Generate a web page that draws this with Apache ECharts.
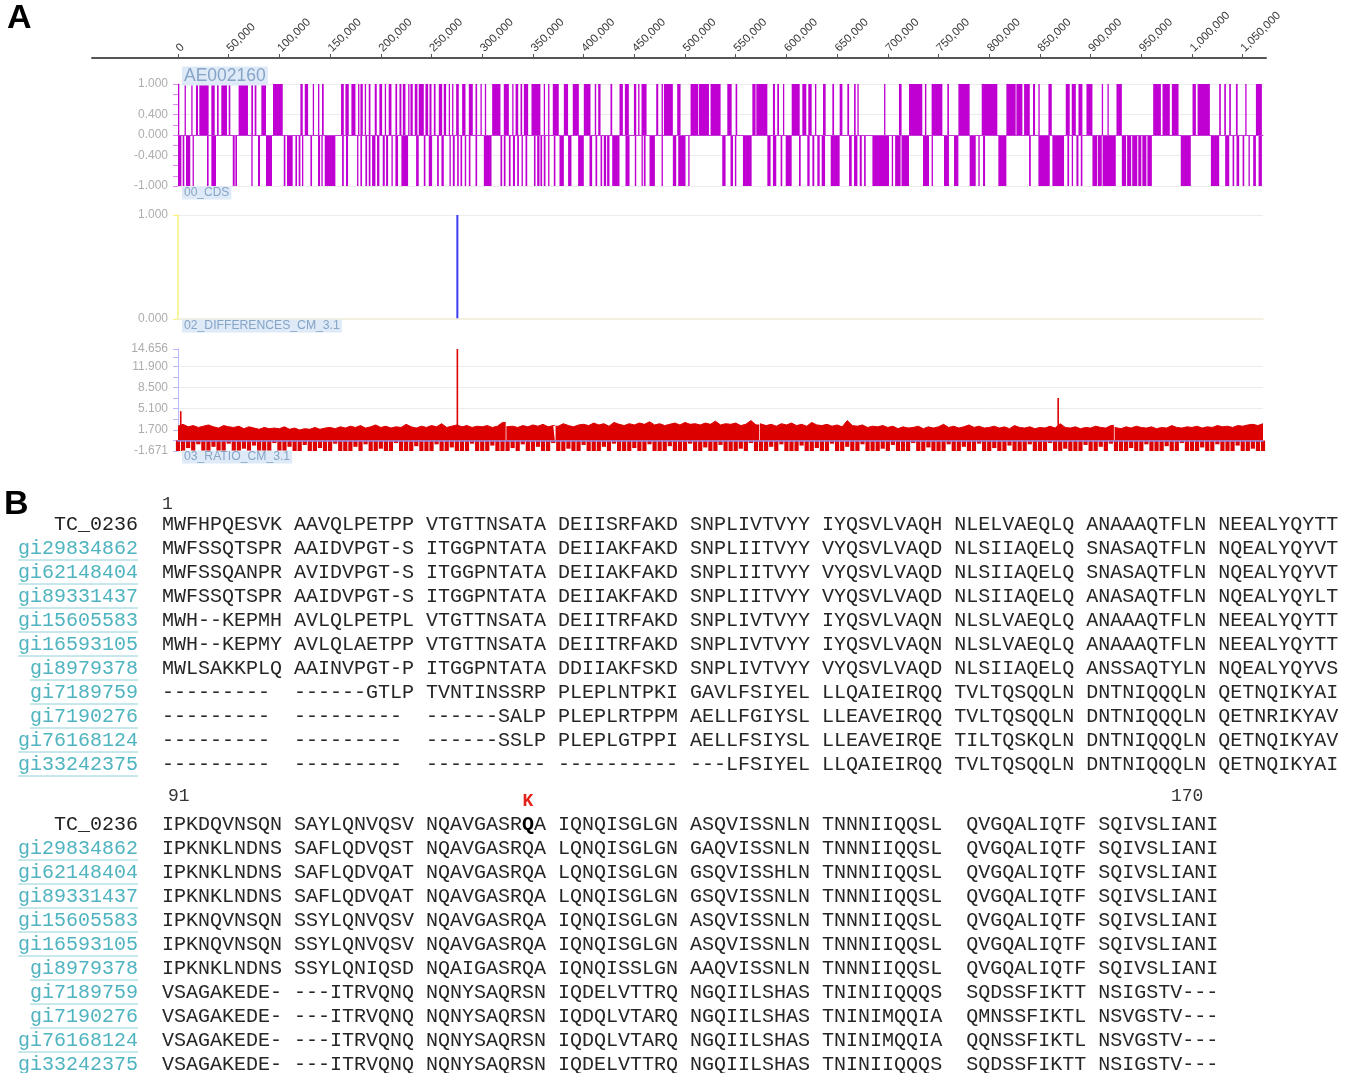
<!DOCTYPE html>
<html><head><meta charset="utf-8">
<script src="https://cdn.jsdelivr.net/npm/echarts@6/dist/echarts.min.js"></script>
<style>html,body{margin:0;padding:0;background:#fff}#c{width:1347px;height:1073px}</style>
</head><body><div id="c"></div>
<script>
// ---------- DATA ----------
const genomeTicks = [0,50000,100000,150000,200000,250000,300000,350000,400000,450000,500000,550000,600000,650000,700000,750000,800000,850000,900000,950000,1000000,1050000];
// CDS intervals (kb) on plus strand
const cdsPlusKb = [[0,1.3],[6.5,7.5],[13.1,13.8],[17.7,19.7],[21,30.2],[32.9,36.2],[38.5,40.1],[42.7,48.3],[50,51.6],[59.8,69],[72.3,74],[75.6,77.3],[82.2,86.8],[93.7,103.3],[120.7,123],[125,128.3],[132.9,133.9],[138.1,139.4],[142,143.7],[160.8,163.5],[165.1,168.4],[171,175],[177.6,178.6],[179.9,182.2],[184.2,185.5],[188.1,189.8],[194,196],[198.6,201.3],[203.9,205.2],[207.8,210.5],[214.4,216.1],[218.4,220.3],[221.7,224.3],[227,227.6],[229.2,231.5],[233.5,236.1],[237.4,242.4],[244,246.7],[248,250],[252.3,254],[257.2,260.5],[262.1,264.4],[267,268],[270.3,271.3],[274.3,276.9],[280.2,283.5],[286.8,290.7],[293.4,295],[298.3,299.3],[302.6,303.6],[309.8,318],[321.3,326.3],[329.6,330.5],[332.9,335.5],[337.8,339.4],[341.1,345.3],[348.6,357.4],[360.7,361.7],[365,365.7],[369.6,375.5],[380.5,384.7],[389.3,395.3],[400.2,406.8],[411,412.4],[414.4,416.7],[426.5,428.2],[435.4,438.7],[440.7,444.6],[449.6,451.9],[453.8,455.1],[457.1,462.1],[471.6,473.6],[476.9,478.2],[479.2,488],[492.3,495.6],[505.5,513],[513.7,523.6],[525.2,535.1],[541.7,546],[549.9,551.5],[566.4,569.6],[570.3,581.2],[586.7,588.7],[591,592.7],[596.6,597.6],[605.2,613.1],[615.7,619.6],[621.6,624.9],[628.2,629.5],[636.1,638.7],[645.3,647],[652.5,655.2],[660.1,661.8],[666.7,668.3],[670,671],[696.3,697.3],[711,713.6],[720.9,734],[736.6,738],[743.2,753.8],[758.7,760.3],[769.6,780.7],[792.6,808],[816.9,826.1],[826.8,832.7],[834.4,840],[843.2,845.2],[848.5,849.8],[858.4,861.7],[875.5,879.4],[881.4,885.4],[888,891.9],[895.9,901.8],[911,912.3],[916.6,917.6],[925.5,930.8],[961.7,969.3],[970.9,978.1],[980.1,986.7],[1000.5,1003.8],[1005.5,1017.6],[1026.8,1028.4],[1031.8,1033.4],[1036.7,1038.3],[1043.3,1045],[1052.5,1053.8],[1063,1068.9]];
// CDS intervals (kb) on minus strand
const cdsMinusKb = [[0,3.3],[4.6,6.2],[7.9,12.1],[14.4,15.4],[28.6,30.2],[32.9,37.5],[54,55.9],[56.6,58.2],[72.3,73.6],[78.9,80.9],[86.8,92.7],[104.3,105.9],[107.5,113.1],[115.8,117.4],[119,120.7],[122.3,123.3],[130.6,132.2],[138.1,140.1],[141.4,142.7],[144.7,155.2],[161.8,163.5],[165.7,167.7],[176.6,177.6],[179.9,181.5],[184.8,186.5],[188.1,189.8],[191.4,194.7],[196.3,198.6],[201.9,203.9],[205.2,207.2],[210.5,211.8],[214.4,217],[220.3,226.9],[234.8,237.4],[242.4,244],[247.3,250.6],[255.5,257.2],[259.8,262.1],[267.7,269],[271,272.9],[275.3,276.9],[278.6,280.2],[282.8,284.2],[286.8,288.4],[293.4,295],[301.6,309.2],[318,319.7],[321.3,323],[326.3,328],[330.3,332.3],[334.5,336.2],[338.8,340.1],[342.7,344.4],[351,352.6],[354.2,356.5],[357.4,359.1],[360.7,362.4],[365,366.3],[370.6,372.2],[376.2,380.5],[384.7,388],[394.6,400.2],[405.8,408.4],[411.7,413.4],[416.7,418.3],[419.9,422.2],[423.2,425.5],[428.2,435.4],[441.3,445.3],[450.5,451.9],[457.1,458.4],[459.4,461.1],[465,470.3],[476.9,478.2],[488,491.3],[493.3,500.5],[503.2,504.5],[536.7,540],[544.9,547.3],[549.2,550.6],[557.1,565.7],[581.2,584.4],[586.7,590],[594.3,595.9],[599.3,605.2],[612.4,614.1],[620.6,622.9],[625.6,627.5],[630.5,632.8],[634.8,638.1],[643.7,652.5],[661.8,664.4],[666.7,670],[672.3,674.3],[676.6,678.2],[684.8,701.2],[703.9,705.2],[707.2,712.6],[713.5,720.9],[734.7,740.6],[743.2,744.5],[755.4,760.3],[765.3,769.6],[780.7,786.7],[789.3,790.6],[793.9,795.9],[809,816.9],[839.3,841],[848.5,859.7],[862.3,873.8],[877.1,878.8],[881.4,882.7],[886,888],[890.3,891.9],[901.8,906.5],[907.2,911],[911.8,924.8],[930.8,935],[936,940],[941,946],[947,950],[951,955],[956,960.4],[988.9,998.8],[1018.6,1026.8],[1032.7,1036.7],[1040,1041.6],[1043.9,1046.5],[1049.9,1051.5],[1055.7,1057],[1060.3,1063],[1065.6,1068.9]];
const diffPeaks = [[275500, 1]];
// ratio track, one value per 5 kb window starting at 0
const ratioWindowBp = 5000;
const ratioPos = [2.3,2.6,2.2,2.4,2.1,2.3,2.5,2.2,2.0,2.4,
2.2,2.1,2.3,1.9,2.2,2.0,1.8,2.1,1.9,2.0,
1.9,2.2,1.8,2.0,1.7,1.9,1.8,2.1,1.8,2.0,
2.1,1.9,2.2,2.0,2.3,2.1,2.4,2.0,2.2,2.5,
2.1,2.3,2.0,2.2,2.1,2.6,2.2,2.0,2.3,2.1,
2.4,2.2,2.7,2.1,2.3,2.5,2.2,2.4,2.1,2.3,
2.2,2.4,2.1,2.3,2.9,2.2,2.3,2.1,2.4,2.2,
2.5,2.3,2.6,2.2,2.4,2.3,2.7,2.4,2.2,2.5,
2.6,2.4,2.8,2.5,2.7,2.3,2.9,2.6,2.4,2.7,
2.5,2.8,2.6,3.0,2.5,2.7,2.4,2.6,2.8,2.5,
2.9,2.6,2.7,2.5,2.8,2.6,3.1,2.5,2.7,2.6,
2.8,2.4,2.6,3.2,2.5,2.7,2.4,2.6,2.3,2.7,
2.5,2.8,2.4,2.6,2.3,2.9,2.5,2.4,2.6,2.3,
2.5,2.2,3.2,2.4,2.3,2.5,2.1,2.3,2.2,2.4,
2.1,2.3,1.9,2.2,2.0,2.1,2.3,1.9,2.2,2.0,
2.2,2.6,2.1,2.3,2.0,2.2,2.5,2.1,2.3,2.0,
2.1,2.3,2.0,2.2,1.9,2.4,2.1,2.0,2.2,1.9,
2.1,2.0,2.3,2.0,2.7,2.1,2.0,2.2,1.9,2.1,
2.0,2.3,2.1,2.0,2.4,2.1,1.9,2.2,2.0,2.3,
2.1,2.0,2.2,1.9,2.1,2.0,2.4,2.1,2.0,2.2,
2.1,2.3,2.0,2.2,2.1,2.4,2.2,2.3,2.1,2.4,
2.3,2.5,2.6,2.4,2.7];
const ratioNeg = [-1.67,-1.67,-1.2,-1.67,-0.6,-1.67,-1.67,-1.0,-1.67,-1.67,
-0.5,-1.67,-1.67,-1.3,-1.67,-0.8,-1.67,-1.67,-1.67,-0.4,
-1.67,-1.67,-1.0,-1.67,-1.67,-0.7,-1.67,-1.67,-1.2,-1.67,
-1.67,-0.5,-1.67,-1.67,-1.67,-1.0,-1.67,-0.6,-1.67,-1.67,
-1.3,-1.67,-1.67,-0.4,-1.67,-1.67,-1.67,-0.9,-1.67,-1.67,
-1.67,-0.6,-1.67,-1.67,-1.1,-1.67,-1.67,-1.67,-0.5,-1.67,
-1.67,-1.67,-0.8,-1.67,-1.67,-1.67,-1.2,-1.67,-0.6,-1.67,
-1.67,-1.0,-1.67,-1.67,-0.4,-1.67,-1.67,-1.3,-1.67,-1.67,
-0.7,-1.67,-1.67,-1.67,-1.0,-1.67,-0.5,-1.67,-1.67,-1.67,
-1.2,-1.67,-1.67,-0.6,-1.67,-1.67,-1.67,-0.9,-1.67,-1.67,
-1.67,-0.5,-1.67,-1.67,-1.1,-1.67,-1.67,-0.7,-1.67,-1.67,
-1.67,-1.3,-1.67,-0.4,-1.67,-1.67,-1.67,-1.0,-1.67,-0.6,
-1.67,-1.67,-1.67,-0.8,-1.67,-1.67,-1.2,-1.67,-1.67,-0.5,
-1.67,-1.67,-1.0,-1.67,-1.67,-0.6,-1.67,-1.67,-1.67,-1.3,
-1.67,-0.7,-1.67,-1.67,-1.67,-0.4,-1.67,-1.67,-1.1,-1.67,
-1.67,-1.67,-0.6,-1.67,-1.67,-1.0,-1.67,-1.67,-0.5,-1.67,
-1.67,-1.2,-1.67,-1.67,-0.8,-1.67,-1.67,-1.67,-0.6,-1.67,
-1.67,-1.67,-0.4,-1.67,-1.67,-1.3,-1.67,-1.67,-1.67,-0.7,
-1.67,-1.67,-1.0,-1.67,-0.5,-1.67,-1.67,-1.67,-1.2,-1.67,
-1.67,-0.6,-1.67,-1.67,-1.67,-0.9,-1.67,-1.67,-0.4,-1.67,
-1.67,-1.67,-1.1,-1.67,-1.67,-0.6,-1.67,-1.67,-1.67,-0.8,
-1.67,-1.67,-1.3,-1.67,-1.67];
const ratioGaps = [323500, 372000, 460000, 573500, 923300];
const ratioSpikes = [[2700, 4.7], [275500, 14.656], [868000, 6.8]];
const cdsYLabels = [-1, -0.4, 0, 0.4, 1];
const diffYLabels = [0, 1];
const ratioYLabels = [-1.671, 1.7, 5.1, 8.5, 11.9, 14.656];

const seqNames = ['TC_0236','gi29834862','gi62148404','gi89331437','gi15605583','gi16593105','gi8979378','gi7189759','gi7190276','gi76168124','gi33242375'];
const seqBlock1 = [
'MWFHPQESVK AAVQLPETPP VTGTTNSATA DEIISRFAKD SNPLIVTVYY IYQSVLVAQH NLELVAEQLQ ANAAAQTFLN NEEALYQYTT',
'MWFSSQTSPR AAIDVPGT-S ITGGPNTATA DEIIAKFAKD SNPLIITVYY VYQSVLVAQD NLSIIAQELQ SNASAQTFLN NQEALYQYVT',
'MWFSSQANPR AVIDVPGT-S ITGGPNTATA DEIIAKFAKD SNPLIITVYY VYQSVLVAQD NLSIIAQELQ SNASAQTFLN NQEALYQYVT',
'MWFSSQTSPR AAIDVPGT-S ITGGPNTATA DEIIAKFAKD SNPLIITVYY VYQSVLVAQD NLSIIAQELQ ANASAQTFLN NQEALYQYLT',
'MWH--KEPMH AVLQLPETPL VTGTTNSATA DEIITRFAKD SNPLIVTVYY IYQSVLVAQN NLSLVAEQLQ ANAAAQTFLN NEEALYQYTT',
'MWH--KEPMY AVLQLAETPP VTGTTNSATA DEIITRFAKD SNPLIVTVYY IYQSVLVAQN NLSLVAEQLQ ANAAAQTFLN NEEALYQYTT',
'MWLSAKKPLQ AAINVPGT-P ITGGPNTATA DDIIAKFSKD SNPLIVTVYY VYQSVLVAQD NLSIIAQELQ ANSSAQTYLN NQEALYQYVS',
'---------  ------GTLP TVNTINSSRP PLEPLNTPKI GAVLFSIYEL LLQAIEIRQQ TVLTQSQQLN DNTNIQQQLN QETNQIKYAI',
'---------  ---------  ------SALP PLEPLRTPPM AELLFGIYSL LLEAVEIRQQ TVLTQSQQLN DNTNIQQQLN QETNRIKYAV',
'---------  ---------  ------SSLP PLEPLGTPPI AELLFSIYSL LLEAVEIRQE TILTQSKQLN DNTNIQQQLN QETNQIKYAV',
'---------  ---------  ---------- ---------- ---LFSIYEL LLQAIEIRQQ TVLTQSQQLN DNTNIQQQLN QETNQIKYAI'];
const seqBlock2 = [
'IPKDQVNSQN SAYLQNVQSV NQAVGASRQA IQNQISGLGN ASQVISSNLN TNNNIIQQSL  QVGQALIQTF SQIVSLIANI',
'IPKNKLNDNS SAFLQDVQST NQAVGASRQA LQNQISGLGN GAQVISSNLN TNNNIIQQSL  QVGQALIQTF SQIVSLIANI',
'IPKNKLNDNS SAFLQDVQAT NQAVGASRQA LQNQISGLGN GSQVISSHLN TNNNIIQQSL  QVGQALIQTF SQIVSLIANI',
'IPKNKLNDNS SAFLQDVQAT NQAVGASRQA LQNQISGLGN GSQVISSNLN TNNNIIQQSL  QVGQALIQTF SQIVSLIANI',
'IPKNQVNSQN SSYLQNVQSV NQAVGASRQA IQNQISGLGN ASQVISSNLN TNNNIIQQSL  QVGQALIQTF SQIVSLIANI',
'IPKNQVNSQN SSYLQNVQSV NQAVGASRQA IQNQISGLGN ASQVISSNLN TNNNIIQQSL  QVGQALIQTF SQIVSLIANI',
'IPKNKLNDNS SSYLQNIQSD NQAIGASRQA IQNQISSLGN AAQVISSNLN TNNNIIQQSL  QVGQALIQTF SQIVSLIANI',
'VSAGAKEDE- ---ITRVQNQ NQNYSAQRSN IQDELVTTRQ NGQIILSHAS TNINIIQQQS  SQDSSFIKTT NSIGSTV---',
'VSAGAKEDE- ---ITRVQNQ NQNYSAQRSN IQDQLVTARQ NGQIILSHAS TNINIMQQIA  QMNSSFIKTL NSVGSTV---',
'VSAGAKEDE- ---ITRVQNQ NQNYSAQRSN IQDQLVTARQ NGQIILSHAS TNINIMQQIA  QQNSSFIKTL NSVGSTV---',
'VSAGAKEDE- ---ITRVQNQ NQNYSAQRSN IQDELVTTRQ NGQIILSHAS TNINIIQQQS  SQDSSFIKTT NSIGSTV---'];
const block1Start = '1', block2Start = '91', block2End = '170';
const mutation = {row: 0, index: 30, label: 'K'};

// ---------- BUILD ----------
const XMAX = 1070000;
const cdsData = cdsPlusKb.map(d => [d[0]*1000, d[1]*1000, 1]).concat(cdsMinusKb.map(d => [d[0]*1000, d[1]*1000, -1]));
const ratioLine = [];
ratioPos.forEach((v, i) => {
  const x = i * ratioWindowBp;
  ratioLine.push([x, v]);
  ratioGaps.forEach(g => {
    if (g > x && g < x + ratioWindowBp && i + 1 < ratioPos.length) {
      ratioLine.push([g - 350, v]); ratioLine.push([g, '-']); ratioLine.push([g + 350, ratioPos[i + 1]]);
    }
  });
});
const ratioNegData = ratioNeg.map((v, i) => [i * ratioWindowBp, v]);

function intervalRender(color) {
  return function (params, api) {
    const p0 = api.coord([api.value(0), 0]);
    const p1 = api.coord([api.value(1), api.value(2)]);
    const w = Math.max(p1[0] - p0[0], 1.3);
    return {type: 'rect', shape: {x: p0[0], y: Math.min(p0[1], p1[1]), width: w, height: Math.abs(p1[1] - p0[1])}, style: {fill: color}};
  };
}
function stickRender(color, width) {
  return function (params, api) {
    const p0 = api.coord([api.value(0), 0]);
    const p1 = api.coord([api.value(0), api.value(1)]);
    return {type: 'rect', shape: {x: p0[0] - width / 2, y: Math.min(p0[1], p1[1]), width: width, height: Math.abs(p1[1] - p0[1])}, style: {fill: color}};
  };
}
function gridMarks(vals) {
  return {silent: true, symbol: 'none', animation: false, z: 0, label: {show: false},
    lineStyle: {color: '#ececec', type: 'solid', width: 1}, data: vals.map(v => ({yAxis: v}))};
}
const fmt3 = v => Number(v).toFixed(3);
const ylab = {color: '#adadad', fontSize: 12, fontFamily: 'Liberation Sans, Arial', margin: 10, formatter: fmt3};

const mono = '"Liberation Mono", "DejaVu Sans Mono", monospace';
const graphics = [];
graphics.push({type: 'text', x: 7, y: 19, style: {text: 'A', fontSize: 34, fontWeight: 'bold', fontFamily: 'Liberation Sans, Arial', fill: '#000', verticalAlign: 'middle', textVerticalAlign: 'middle'}});
graphics.push({type: 'text', x: 4, y: 505, style: {text: 'B', fontSize: 34, fontWeight: 'bold', fontFamily: 'Liberation Sans, Arial', fill: '#000', verticalAlign: 'middle', textVerticalAlign: 'middle'}});
function tag(text, x, y, size) {
  graphics.push({type: 'text', x: x, y: y, z: 100, style: {text: text, fontSize: size, fontFamily: 'Liberation Sans, Arial', fill: '#86a4c6', backgroundColor: '#deeaf7', padding: [1, 2, 0, 2], verticalAlign: 'middle', textVerticalAlign: 'middle'}});
}
tag('AE002160', 182, 76, 17.5);
tag('00_CDS', 182, 193, 12);
tag('02_DIFFERENCES_CM_3.1', 182, 326, 12.2);
tag('03_RATIO_CM_3.1', 182, 457, 12.2);

function addBlock(seqs, yTop, withMutation) {
  seqNames.forEach((name, r) => {
    const y = yTop + r * 24;
    const isRef = r === 0;
    graphics.push({type: 'text', x: 138, y: y, style: {text: name, fontSize: 20, fontFamily: mono, fill: isRef ? '#222' : '#4fb4c0', align: 'right', textAlign: 'right', verticalAlign: 'middle', textVerticalAlign: 'middle'}});
    if (!isRef) {
      graphics.push({type: 'line', shape: {x1: 138 - name.length * 12, y1: y + 11, x2: 138, y2: y + 11}, style: {stroke: '#8fd0d8', lineWidth: 1}});
    }
    const s = seqs[r];
    const style = {text: s, fontSize: 20, fontFamily: mono, fill: '#262626', verticalAlign: 'middle', textVerticalAlign: 'middle'};
    if (withMutation && r === mutation.row) {
      const i = mutation.index;
      style.text = s.slice(0, i) + '{b|' + s[i] + '}' + s.slice(i + 1);
      style.rich = {b: {fontSize: 20, fontFamily: mono, fontWeight: 'bold', fill: '#000'}};
    }
    graphics.push({type: 'text', x: 162, y: y, style: style});
  });
}
graphics.push({type: 'text', x: 162, y: 504, style: {text: block1Start, fontSize: 18, fontFamily: mono, fill: '#333', verticalAlign: 'middle', textVerticalAlign: 'middle'}});
addBlock(seqBlock1, 525, false);
graphics.push({type: 'text', x: 168, y: 796, style: {text: block2Start, fontSize: 18, fontFamily: mono, fill: '#333', verticalAlign: 'middle', textVerticalAlign: 'middle'}});
graphics.push({type: 'text', x: 1171, y: 796, style: {text: block2End, fontSize: 18, fontFamily: mono, fill: '#333', verticalAlign: 'middle', textVerticalAlign: 'middle'}});
graphics.push({type: 'text', x: 162 + mutation.index * 12 + 6, y: 801, style: {text: mutation.label, fontSize: 18, fontWeight: 'bold', fontFamily: mono, fill: '#e3231b', align: 'center', textAlign: 'center', verticalAlign: 'middle', textVerticalAlign: 'middle'}});
addBlock(seqBlock2, 825, true);

const trackX = {type: 'value', min: 0, max: XMAX, axisLabel: {show: false}, axisTick: {show: false}, splitLine: {show: false}};

const option = {
  animation: false,
  backgroundColor: '#fff',
  grid: [
    {left: 92, width: 1174, top: 57, height: 1},
    {left: 178, width: 1085, top: 84, height: 102},
    {left: 178, width: 1085, top: 215, height: 104},
    {left: 178, width: 1085, top: 349, height: 102}
  ],
  xAxis: [
    {gridIndex: 0, type: 'value', position: 'top', min: -84800, max: 1073000,
      axisLine: {lineStyle: {color: '#555', width: 2}},
      axisTick: {customValues: genomeTicks, length: 4, lineStyle: {color: '#555'}},
      axisLabel: {customValues: genomeTicks, rotate: 45, fontSize: 11.5, color: '#3a3a3a', fontFamily: 'Liberation Sans, Arial', margin: 7,
        formatter: v => Number(v).toLocaleString('en-US')},
      splitLine: {show: false}},
    Object.assign({gridIndex: 1, z: 5, axisLine: {onZero: true, lineStyle: {color: '#c23ad6', width: 1}}}, trackX),
    Object.assign({gridIndex: 2, z: 5, axisLine: {onZero: true, lineStyle: {color: '#f0ecd6', width: 1.5}}}, trackX),
    Object.assign({gridIndex: 3, z: 5, axisLine: {onZero: true, lineStyle: {color: '#9085e4', width: 1.5}}}, trackX)
  ],
  yAxis: [
    {gridIndex: 0, type: 'value', show: false, min: 0, max: 1},
    {gridIndex: 1, type: 'value', min: -1, max: 1, splitLine: {show: false},
      axisLine: {show: true, lineStyle: {color: '#e28bf0'}},
      axisTick: {show: true, customValues: [-1,-0.8,-0.6,-0.4,-0.2,0,0.2,0.4,0.6,0.8,1], length: 5, lineStyle: {color: '#e28bf0'}},
      axisLabel: Object.assign({customValues: cdsYLabels}, ylab)},
    {gridIndex: 2, type: 'value', min: 0, max: 1, splitLine: {show: false},
      axisLine: {show: true, lineStyle: {color: '#f7f27a', width: 1.5}},
      axisTick: {show: true, customValues: [0, 1], length: 5, lineStyle: {color: '#f7f27a'}},
      axisLabel: Object.assign({customValues: diffYLabels}, ylab)},
    {gridIndex: 3, type: 'value', min: -1.671, max: 14.656, splitLine: {show: false},
      axisLine: {show: true, lineStyle: {color: '#b9b9ff'}},
      axisTick: {show: true, customValues: [-1.671,0,1.7,3.4,5.1,6.8,8.5,10.2,11.9,13.3,14.656], length: 5, lineStyle: {color: '#b9b9ff'}},
      axisLabel: Object.assign({customValues: ratioYLabels}, ylab)}
  ],
  series: [
    {type: 'line', xAxisIndex: 1, yAxisIndex: 1, data: [], z: 0, markLine: gridMarks([-1, -0.4, 0.4, 1])},
    {type: 'custom', xAxisIndex: 1, yAxisIndex: 1, z: 2, renderItem: intervalRender('#c000d2'), data: cdsData, encode: {x: [0, 1], y: 2}},
    {type: 'line', xAxisIndex: 2, yAxisIndex: 2, data: [], z: 0, markLine: gridMarks([1])},
    {type: 'custom', xAxisIndex: 2, yAxisIndex: 2, z: 2, renderItem: stickRender('#3b3bf2', 2), data: diffPeaks, encode: {x: 0, y: 1}},
    {type: 'line', xAxisIndex: 3, yAxisIndex: 3, data: [], z: 0, markLine: gridMarks([14.656, 11.9, 8.5, 5.1, 1.7])},
    {type: 'line', xAxisIndex: 3, yAxisIndex: 3, z: 2, data: ratioLine, symbol: 'none', connectNulls: false,
      lineStyle: {color: '#dc0000', width: 1}, areaStyle: {color: '#dc0000', opacity: 1, origin: 0}},
    {type: 'custom', xAxisIndex: 3, yAxisIndex: 3, z: 2, renderItem: stickRender('#dc0000', 4.2), data: ratioNegData, encode: {x: 0, y: 1}},
    {type: 'custom', xAxisIndex: 3, yAxisIndex: 3, z: 3, renderItem: stickRender('#dc0000', 1.6), data: ratioSpikes, encode: {x: 0, y: 1}}
  ],
  graphic: graphics
};
const chart = echarts.init(document.getElementById('c'), null, {renderer: 'canvas'});
chart.setOption(option);
</script></body></html>
